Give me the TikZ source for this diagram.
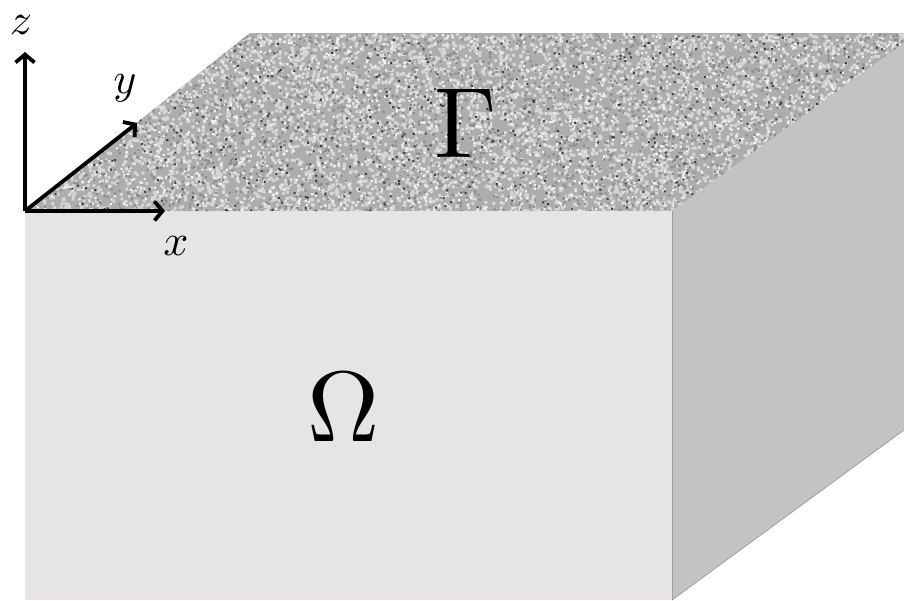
\documentclass[tikz,border=0pt]{standalone}
\usetikzlibrary{arrows.meta}
\definecolor{frontc}{HTML}{E6E4E5}
\definecolor{sidec}{HTML}{C3C3C3}
\definecolor{edgec}{HTML}{9E9E9E}
\definecolor{topc}{HTML}{ADADAD}
\tikzset{
  axis/.style={line width=3.8pt,-{Straight Barb[length=8pt,width=19pt,line width=3.8pt]}},
  axlabel/.style={scale=4.4,inner sep=0pt},
  biglabel/.style={scale=10,inner sep=0pt}
}
\newcommand{\speckles}[3]{%
  \fill[#2] \foreach \i in {1,...,#1}{ (25+879*rnd,33+178*rnd) rectangle ++(#3,#3) };%
}
\begin{document}
\begin{tikzpicture}[x=1pt,y=-1pt]
\useasboundingbox (0,0) rectangle (904,600);
% front face
\fill[frontc] (25,211) rectangle (672,600);
% right face
\fill[sidec] (672,211) -- (904,43) -- (904,430) -- (672,600) -- cycle;
\draw[edgec,line width=0.8pt] (672,211) -- (672,600);
\draw[edgec,line width=0.8pt] (672,600) -- (904,430);
% top face with speckle texture
\begin{scope}
\clip (25,211) -- (672,211) -- (904,43) -- (904,33) -- (250,33) -- cycle;
\fill[topc] (25,33) rectangle (904,211);
\pgfmathsetseed{7}
\speckles{5500}{black!16}{3}
\speckles{2500}{black!6}{2.2}
\speckles{2500}{black!45}{2.2}
\speckles{600}{black!75}{2}
\end{scope}
% axes
\coordinate (O) at (25,211);
\coordinate (zt) at (25,52);
\coordinate (xt) at (165,211);
\coordinate (yt) at (137,123);
\draw[axis] (O) -- (zt);
\draw[axis] (O) -- (xt);
\draw[axis] (O) -- (yt);
\node[axlabel] (zl) at (21,25) {$z$};
\node[axlabel] (yl) at (125,88) {$y$};
\node[axlabel] (xl) at (176,246) {$x$};
\node[biglabel] (gam) at (466,123) {$\Gamma$};
\node[biglabel] (om) at (344,407) {$\Omega$};
\end{tikzpicture}
\end{document}
